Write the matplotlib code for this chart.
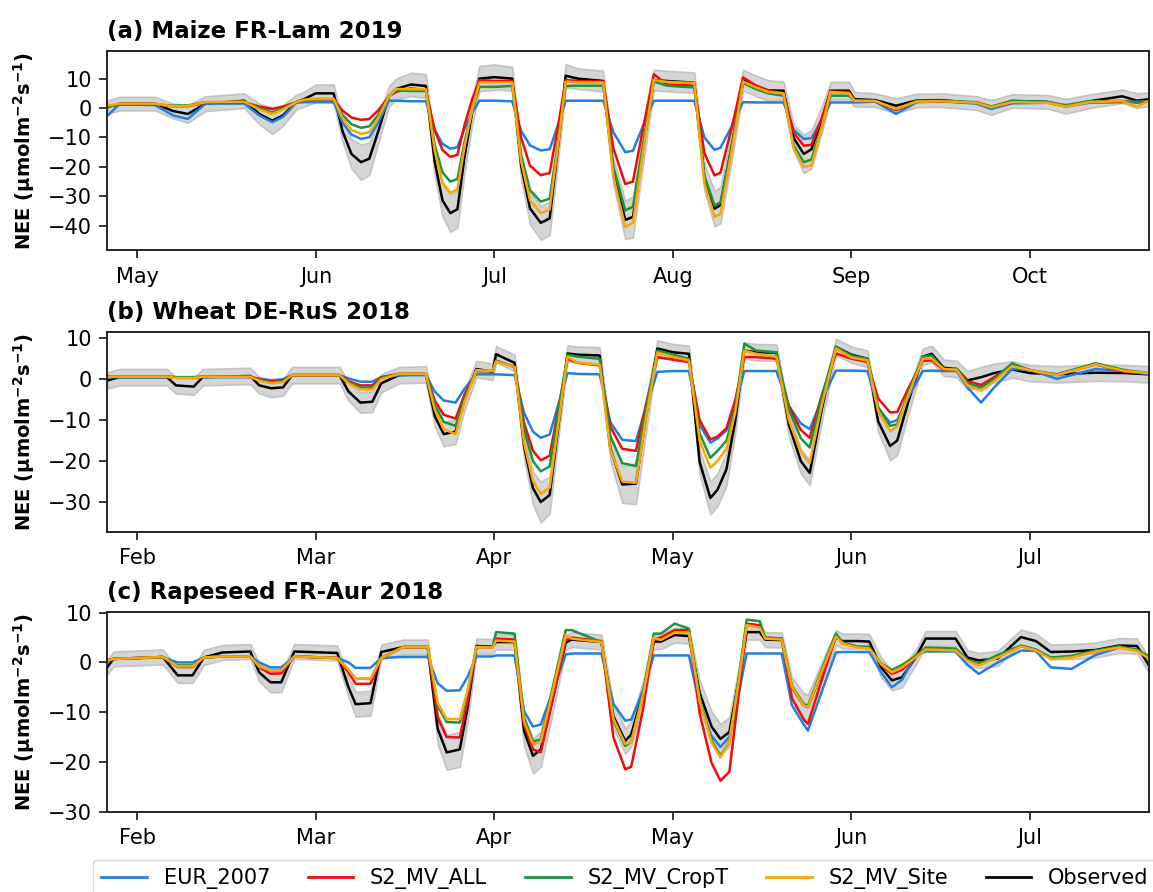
import matplotlib
matplotlib.use("Agg")
import matplotlib.pyplot as plt
from matplotlib.lines import Line2D

plt.rcParams['font.family'] = ['DejaVu Sans']

# ---- data (x in days from the first month tick, ticks every 30 days) ----
month_ticks = [0, 30, 60, 90, 120, 150]

titles = ['(a) Maize FR-Lam 2019', '(b) Wheat DE-RuS 2018', '(c) Rapeseed FR-Aur 2018']
month_labels_a = ['May', 'Jun', 'Jul', 'Aug', 'Sep', 'Oct']
month_labels_bc = ['Feb', 'Mar', 'Apr', 'May', 'Jun', 'Jul']

# panel (a)
a_x = [-5, -3, 3, 6, 8.5, 11.5, 18, 20.5, 22.7, 24.5, 26.7, 28, 30, 33,
       34.5, 36, 37.6, 39, 40.5, 42.3, 43.5, 46, 48.5,
       50, 51.3, 52.6, 53.8, 55, 56.3, 57.5, 60, 63,
       64.5, 66, 67.8, 69.3, 70.7, 72, 74, 78.3,
       80, 82, 83.3, 85, 86.8, 89, 93.6,
       95.3, 97, 98, 100, 101.8, 104, 106, 108.6,
       110.3, 112, 113.3, 115, 116.5,
       119.6, 120.5, 124, 127.5, 131, 135, 141, 143.5, 147, 153, 156, 160, 165.5, 168, 170]
a_eur = [-2.6, 1.3, 1.0, -2.5, -3.7, 1.5, 1.5, -2.5, -4.8, -3, 1.8, 2, 2, 2,
         -4.9, -9, -10.5, -9.9, -4.9, 2.5, 2.5, 2.3, 2.3,
         -7.4, -12.2, -13.8, -13.3, -7, -1.5, 2.5, 2.5, 2.3,
         -7.7, -12.7, -14.4, -14, -5.8, 2.5, 2.5, 2.5,
         -8.2, -15, -14.5, -6, 2.5, 2.5, 2.5,
         -10, -14.2, -13.5, -5.8, 2, 1.9, 1.9, 1.9,
         -7.4, -10.5, -10.2, -4.1, 1.9,
         1.9, 1.9, 2.2, -2, 2, 2.3, 1.5, -0.3, 1.6, 1.8, 0.5, 1.8, 2, 2.2, 2.3]
a_all = [0.5, 1.2, 1.2, 0.6, 0.6, 1.8, 2, 0.5, -0.3, 0.5, 2, 2.5, 3, 3,
         -0.9, -3.2, -4, -3.7, -0.8, 4, 5.5, 6.7, 6,
         -7.6, -14.3, -16.6, -15.9, -5.7, 3.1, 9.5, 9.2, 9.2,
         -10, -19.6, -22.8, -22.1, -6.3, 9.5, 9.2, 9,
         -13.6, -25.8, -25, -6.8, 11.5, 8, 7.6,
         -15.3, -22.9, -22, -5.8, 10.4, 7.6, 6, 5,
         -8.4, -12.8, -12.5, -3.5, 5.5,
         5.5, 2.5, 2.3, -0.7, 2.2, 2.3, 1.8, 0.5, 1.8, 2, 0.8, 2, 2.2, 2, 2.3]
a_cropt = [0.5, 1.3, 1.3, 0.8, 0.9, 2, 2, 0, -1.5, 0, 2, 2.5, 3, 3,
           -2.3, -5.5, -6.7, -6.2, -2.3, 4, 6, 5.8, 5.8,
           -12.7, -21.9, -25, -24.1, -11.6, -0.6, 7.2, 7.2, 7.5,
           -16.1, -27.9, -31.8, -30.8, -11.7, 7.5, 7.6, 7.6,
           -20, -34.8, -33.5, -12.3, 9, 7.6, 7,
           -23, -33.1, -32, -11.8, 8.5, 6.4, 5, 4.2,
           -12.8, -18.4, -17.5, -6.7, 4.2,
           4.2, 2.5, 2.4, -0.3, 2.5, 2.5, 2, 0.5, 2.5, 2, 1, 2.3, 2.4, 1.8, 2.3]
a_site = [0.8, 1.5, 1.5, 0.6, 0.7, 2, 2.2, -0.5, -2, -0.5, 2, 2.8, 3.2, 3.2,
          -3.4, -7.4, -8.8, -8.2, -3.4, 4, 6.5, 6.4, 6.4,
          -14.7, -25.3, -28.8, -27.7, -13.1, -0.4, 8.7, 8.7, 8.7,
          -18, -31.3, -35.7, -34.5, -12.8, 9, 8.7, 8.7,
          -23.2, -40.4, -39, -14.8, 9.5, 8.9, 8.5,
          -25.6, -37, -36, -13.5, 9, 7, 5.5, 5,
          -13.8, -20, -19.5, -7, 5.5,
          5, 2.5, 2.4, -0.3, 2.2, 2.3, 1.8, 0.3, 2, 1.8, 0.5, 2, 2.4, 0.4, 2.5]
a_obs = [0.3, 1.5, 1.5, -1, -2, 1.5, 2.5, -2, -4.3, -2.5, 2, 3, 5, 5,
         -7.9, -15.6, -18.4, -17.2, -7.9, 4, 6.5, 8, 7.5,
         -18.4, -31.4, -35.7, -34.4, -16.6, -1.1, 10, 10.5, 10,
         -19.4, -34.1, -39, -37.5, -13.3, 11, 10, 9.2,
         -21.5, -38, -37, -13.8, 9.5, 9.2, 8.6,
         -23.5, -34.2, -33, -11.8, 9.5, 7.5, 6, 5.9,
         -10.2, -15.6, -14, -4.1, 5.9,
         5.9, 3, 2.7, 0.8, 2.6, 2.7, 1.7, 0.2, 2.4, 2.1, 0.6, 2.3, 4, 2.5, 3]
a_err = [2.3, 2.3, 2.3, 2.5, 3, 2.5, 2.5, 3.5, 4.5, 3.5, 2.5, 2.5, 3, 3,
         3.5, 5, 6, 5.5, 4, 3.5, 3.5, 4, 4,
         4.5, 5.5, 6.3, 6.3, 5.5, 4.5, 4.3, 4.3, 4,
         4.5, 5.5, 5.7, 5.7, 5, 4, 3.5, 3.5,
         4.5, 6.5, 7, 5.5, 3.5, 3.5, 3.5,
         4.5, 6, 6.2, 5, 3.5, 3.5, 3.5, 3,
         4.5, 6.5, 6.5, 4.5, 3,
         3, 2.5, 2.3, 2.5, 2.3, 2.3, 2.3, 2.5, 2.3, 2.3, 2.5, 2.3, 2.3, 2.5, 2.3]

# panel (b)
b_x = [-5, -3, 5, 6.5, 9.5, 11, 19, 20.5, 22.5, 24.5, 26, 34, 35.5, 37.5, 39.5, 41, 44, 48.5,
       50, 51.5, 53.5, 55, 57, 59.7, 60.3, 63.4,
       65, 66.5, 67.8, 69.3, 70.8, 72.3, 74, 77.7,
       79.5, 81.5, 83.8, 85.5, 87.4, 90, 92.7,
       94.5, 96.3, 97.5, 99, 100.5, 102, 104, 107.4,
       109.5, 111.5, 113, 115, 117.4, 120, 122.7,
       124.5, 126.5, 127.7, 129.5, 132,
       133.5, 135.5, 137.7, 139.5, 141.8, 144, 147, 150, 154.5, 161, 166, 170]
b_eur = [0.5, 0.5, 0.5, 0.5, 0.5, 0.5, 0.5, 0.1, -0.3, 0, 1, 1, 0.2, -0.6, -0.6, 0.5, 1, 1,
         -3, -5.2, -5.7, -2.3, 1.2, 1.2, 1.2, 1,
         -8.2, -12.8, -14.3, -13.5, -6, 1.5, 1.3, 1.2,
         -10.5, -14.8, -15.1, -6.7, 1.8, 2, 2,
         -11.1, -15.5, -14.5, -12.5, -6, 2, 2, 2,
         -6.5, -10.8, -12.2, -5.1, 2.1, 2.1, 2,
         -7.1, -10.6, -10, -4.6, 2,
         2.1, 2, 2, -2, -5.7, -2, 2.5, 2.3, 0.1, 2.5, 2, 1.2]
b_all = [0.6, 0.6, 0.6, 0.5, 0.5, 0.6, 0.6, 0, -0.5, -0.3, 1, 1, -0.5, -1.5, -1.5, 0.5, 1.3, 1.3,
         -5.2, -8.7, -9.6, -3.8, 2, 2, 4.5, 3,
         -10.7, -17.5, -19.8, -18.7, -6.9, 5, 4, 3.4,
         -11.6, -17, -17.5, -6.1, 5.4, 4.8, 4.2,
         -10, -14.7, -14, -12, -5, 5.4, 5.4, 5,
         -6.6, -12.4, -14.3, -4, 6.3, 5, 4.2,
         -4.7, -8.1, -8, -2.4, 4.5,
         4.6, 2.3, 2.5, -0.5, -1.4, 0.5, 3.5, 2.2, 1.0, 3.6, 1.8, 1.5]
b_cropt = [0.6, 0.6, 0.6, 0.5, 0.5, 0.6, 0.6, -0.2, -0.8, -0.5, 1, 1, -0.8, -2, -2, 0.3, 1.3, 1.3,
           -6.3, -10.4, -11.4, -4.7, 2, 2, 4.5, 3,
           -12.3, -20, -22.5, -21.3, -7.7, 6, 5.5, 5,
           -13.9, -20.5, -21.2, -7.1, 7, 6, 5,
           -13.2, -19.2, -17.5, -15, -7, 8.7, 7, 6.6,
           -7.4, -14.4, -16.7, -4.4, 7.9, 5.8, 5,
           -6.8, -11.4, -11, -3.5, 5.5,
           5.8, 2.5, 2.5, -1, -2, 0, 3.9, 2.2, 1.2, 3.9, 2.2, 1.5]
b_site = [0.6, 0.6, 0.6, 0.3, 0.3, 0.6, 0.6, -0.4, -1, -0.7, 1, 1, -1, -2.5, -2.5, 0, 1.3, 1.3,
          -7.5, -12.2, -13.4, -5.6, 2.2, 2, 4.3, 3,
          -15.6, -24.9, -28, -26.5, -10.5, 5.5, 4, 3.6,
          -17.2, -25, -25.3, -9.4, 6.5, 5.5, 4.6,
          -15, -21.6, -20, -17, -8, 7, 6.2, 5.5,
          -10, -17.8, -20.4, -6.5, 7.5, 5.3, 4.6,
          -7.8, -12.6, -11.5, -4.1, 5,
          5, 2.5, 2.3, -1.5, -2.8, -0.5, 3.2, 2.2, 1.0, 3.6, 2, 1.5]
b_obs = [-0.3, 0.5, 0.5, -1.5, -1.8, 0.5, 0.8, -1.5, -2.2, -2, 1, 1, -3, -5.7, -5.5, -1, 1, 1.2,
         -9, -13.4, -12.8, -5, 2.5, 1.8, 6.1, 4,
         -16.4, -26.6, -30, -28.3, -11, 6.3, 6, 5.8,
         -16.9, -25.7, -25.5, -9, 7.5, 6.6, 6.2,
         -20.2, -29, -27, -22, -10, 7, 6.6, 6.5,
         -11.1, -20, -22.9, -7.5, 7.9, 6, 5,
         -10.3, -16.3, -15, -5.8, 5.5,
         6.2, 2.8, 2.5, -0.3, 0.5, 1.5, 2.4, 1.5, 1.2, 1.6, 1.5, 1.2]
b_err = [2, 2, 2, 2, 2, 2, 2, 2, 2.2, 2, 2, 2, 2.2, 2.5, 2.5, 2.2, 2, 2,
         2.5, 3, 3, 2.5, 2, 2, 2, 2,
         3, 4, 5, 4.5, 3, 2, 2, 2,
         3, 4.5, 5, 4, 2, 2, 2,
         3, 4, 4, 4, 3, 2, 2, 2,
         3, 3, 3, 3, 2, 2, 2,
         2.5, 3.5, 3.5, 3, 2,
         2, 2, 2, 2.3, 2.5, 2.3, 2, 2, 2, 2, 2, 2]

# panel (c)
c_x = [-5, -4, 4.3, 6.8, 9.3, 11.2, 14.3, 19, 20.5, 22.4, 24.2, 26.4, 33.6, 35.5, 36.7, 39.2, 41, 44.7, 48.8,
       50.5, 52, 54.2, 55.5, 57, 59.7, 60.3, 63.4,
       65, 66.5, 67.8, 69.5, 72, 73, 78,
       80, 82, 83, 85, 86.8, 88, 90.3, 92.7,
       94.5, 96.5, 98, 99.5, 101, 102.4, 104.6, 105.5, 108.3,
       110, 112, 112.7, 115, 117.4, 118.5, 121, 123,
       125, 126.8, 128.5, 130.8,
       132.5, 137.5, 139.5, 141.4, 144.6, 148.5, 151, 153.5, 157, 161, 165, 168, 170]
c_eur = [0.4, 0.7, 1, 0, 0, 1, 1.2, 1.2, 0, -1, -1, 1.2, 0.9, 0, -1.1, -1.1, 0.9, 1.1, 1.1,
         -4.2, -5.7, -5.6, -2.9, 1.2, 1.2, 1.4, 1.4,
         -9.8, -12.9, -12.5, -6.9, 1.6, 1.8, 1.8,
         -8.3, -11.7, -11.5, -5.6, 1.4, 1.4, 1.4, 1.4,
         -8.7, -14.8, -17, -15, -6.6, 1.8, 1.8, 1.8, 1.8,
         -8.6, -12.5, -13.7, -5.9, 2, 2.1, 2.1, 2.1,
         -2, -5, -3.5, 1.5,
         2.2, 2.2, -0.5, -2.3, 0, 2.4, 2.3, -1, -1.3, 1.5, 3, 2.5, 0.8]
c_all = [0.4, 0.7, 1.1, -0.9, -0.9, 1, 1.2, 1.2, -1, -2.3, -2.2, 1.2, 0.9, -2, -4.3, -4.3, 0.9, 3.1, 3.1,
         -11.1, -15, -15.1, -7.8, 3.1, 3.1, 4.8, 4.6,
         -12.5, -17.5, -18.1, -9.1, 4.5, 5, 4.3,
         -15, -21.5, -21, -9.4, 4.8, 5, 6.5, 6.5,
         -10.2, -20.2, -23.8, -22, -7.1, 7.8, 7.5, 5, 4.8,
         -7.2, -11.5, -12.4, -3.6, 5.3, 4, 3.2, 3.1,
         -0.5, -2.3, -1.5, 1,
         2.8, 2.6, 0.5, -0.3, 1.2, 3.2, 2.5, 0.9, 1.2, 2.2, 3.2, 2.4, 1]
c_cropt = [0.4, 0.7, 1.1, -0.6, -0.6, 1, 1.2, 1.2, -0.8, -1.6, -1.6, 1.2, 0.9, -1.5, -3.3, -3.3, 0.9, 3.1, 3.1,
           -8.8, -12, -12.1, -6, 3.1, 3.1, 6.1, 5.8,
           -11.1, -15.9, -15.5, -6.7, 6.5, 6.5, 4.1,
           -11.6, -16.8, -16, -6.2, 5.8, 5.8, 7.8, 6.8,
           -7.3, -15.7, -18.8, -16, -3.7, 8.6, 8.3, 5, 4.8,
           -4.7, -8.4, -8.7, -1.5, 5.8, 4, 3.1, 3,
           -0.2, -1.5, -0.5, 1.3,
           3, 2.8, 0.5, -0.3, 1.5, 3.4, 2.6, 1, 1.3, 2.4, 3.2, 2.6, 1.2]
c_site = [0.4, 0.7, 1.1, -0.8, -0.8, 1, 1.2, 1.2, -0.8, -1.6, -1.6, 1.2, 0.9, -1.5, -3.3, -3.3, 0.9, 3.1, 3.1,
          -8.2, -11.4, -11.4, -5.6, 3.1, 3, 4.4, 4.2,
          -11.9, -16.4, -16, -7.4, 5.5, 4.8, 4.1,
          -11.3, -16.4, -16, -6.6, 5, 4.5, 6, 6,
          -7.8, -16.1, -19.1, -16, -4.3, 7.5, 7, 4.8, 4.6,
          -4.9, -8.7, -9, -1.9, 5.2, 3.8, 3, 2.8,
          -0.3, -2, -1, 1,
          2.6, 2.4, 0.3, -0.6, 1, 3.2, 2.4, 0.7, 1, 2.2, 3, 2.3, 0.8]
c_obs = [-0.9, 0.7, 1.1, -2.6, -2.6, 1, 2, 2.2, -2, -4, -4, 2.2, 1.9, -5, -8.4, -8.2, 2.1, 3.1, 3.1,
         -13.4, -18.1, -17.5, -9.2, 3.3, 3.2, 4.1, 4.1,
         -13.8, -18.8, -17.5, -8.9, 4, 4.6, 4.1,
         -10.8, -15.8, -14.5, -6.1, 4.2, 4.2, 5.5, 5.3,
         -6.1, -12.9, -15.4, -14, -4, 6.1, 6.1, 4.6, 4.5,
         -5, -8.7, -9, -2, 5, 4.3, 4.3, 4.2,
         -1, -3.6, -3, 1,
         4.8, 4.8, 1, 0.4, 0.8, 5.1, 4.3, 2.1, 2.2, 2.5, 3.4, 3.3, -0.6]
c_err = [1.5, 1.5, 1.5, 1.5, 1.5, 1.5, 1.5, 1.5, 1.8, 2, 2, 1.5, 1.5, 2, 2.5, 2.5, 1.5, 1.5, 1.5,
         3, 3.5, 3.5, 3, 1.5, 1.5, 1.5, 1.5,
         3, 3.5, 3.5, 3, 1.5, 1.5, 1.5,
         2.5, 2.5, 2.5, 2.5, 1.5, 1.5, 1.5, 1.5,
         2.5, 3, 3, 3, 2.5, 1.5, 1.5, 1.5, 1.5,
         2, 2.5, 2.5, 2, 1.5, 1.5, 1.5, 1.5,
         2, 2, 2, 1.5,
         1.5, 1.5, 1.5, 1.5, 1.5, 1.5, 1.5, 1.5, 1.5, 1.5, 1.5, 1.5, 1.5]

labels = ['EUR_2007', 'S2_MV_ALL', 'S2_MV_CropT', 'S2_MV_Site', 'Observed']
colors = ['#1E7FE6', '#F50A0A', '#17963F', '#FFA500', 'black']

panels = [
    (a_x, [a_eur, a_all, a_cropt, a_site], a_obs, a_err, month_labels_a, (-48.4, 19.5), [-40, -30, -20, -10, 0, 10]),
    (b_x, [b_eur, b_all, b_cropt, b_site], b_obs, b_err, month_labels_bc, (-37.2, 11.6), [-30, -20, -10, 0, 10]),
    (c_x, [c_eur, c_all, c_cropt, c_site], c_obs, c_err, month_labels_bc, (-30, 10.2), [-30, -20, -10, 0, 10]),
]

fig = plt.figure(figsize=(11.53, 8.92), dpi=100)
tops = [0.9432, 0.6281, 0.3142]
h = 0.224

for i, (x, models, obs, err, mlabels, ylim, yticks) in enumerate(panels):
    ax = fig.add_axes([0.0932, tops[i] - h, 0.9033, h])
    lo = [o - e for o, e in zip(obs, err)]
    hi = [o + e for o, e in zip(obs, err)]
    ax.fill_between(x, lo, hi, color='0.78', alpha=0.75, lw=1.2, edgecolor='0.72')
    ax.plot(x, obs, color=colors[4], lw=1.8)
    for m, c in zip(models, colors[:4]):
        ax.plot(x, m, color=c, lw=1.8)
    ax.set_xlim(-5, 170)
    ax.set_ylim(*ylim)
    ax.set_yticks(yticks)
    ax.set_xticks(month_ticks)
    ax.set_xticklabels(mlabels)
    ax.tick_params(labelsize=15, length=6, width=1.3, color='0.15')
    ax.tick_params(axis='x', pad=6)
    ax.tick_params(axis='y', pad=5)
    for s in ax.spines.values():
        s.set_linewidth(1.4)
        s.set_color('0.15')
    ax.set_title(titles[i], loc='left', fontsize=16.5, fontweight='bold', pad=9)
    ax.set_ylabel(r'NEE (µmolm$^{\mathbf{-2}}$s$^{\mathbf{-1}}$)', fontsize=14, fontweight='bold')
    ax.yaxis.set_label_coords(-0.068, 0.5)

handles = [Line2D([], [], color=c, lw=2) for c in colors]
fig.legend(handles, labels, loc='upper center', bbox_to_anchor=(0.542, 0.036), ncol=5,
           fontsize=15, handlelength=2.2, handletextpad=0.8, columnspacing=1.8,
           borderaxespad=0, frameon=True, edgecolor='0.8')

fig.savefig('out.png', dpi=100)
